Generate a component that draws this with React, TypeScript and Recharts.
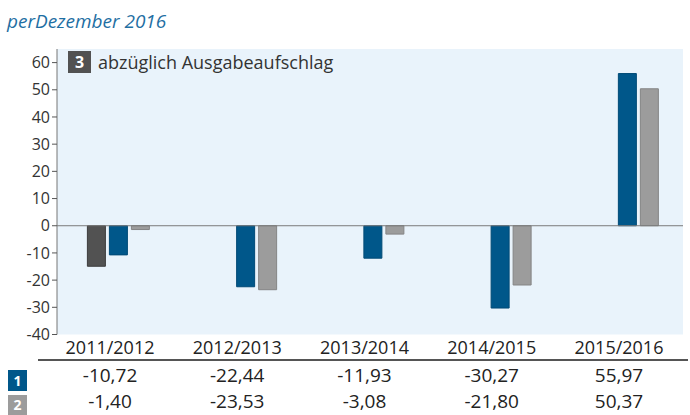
import { Bar, BarChart, CartesianGrid, ReferenceLine, XAxis, YAxis } from 'recharts';

const categories = ['2011/2012', '2012/2013', '2013/2014', '2014/2015', '2015/2016'];
const series1 = [-10.72, -22.44, -11.93, -30.27, 55.97];
const series2 = [-1.4, -23.53, -3.08, -21.8, 50.37];
const series3 = [-14.9, null, null, null, null];
const yTicks = [-40, -30, -20, -10, 0, 10, 20, 30, 40, 50, 60];

const data = categories.map((period, i) => ({
  period,
  s1: series1[i],
  s2: series2[i],
  s3: series3[i],
}));

const BLUE = '#00578a';
const GRAY = '#9c9c9c';
const DARK = '#525252';
const FONT = '"Open Sans", sans-serif';

const fmt = (v: number) => v.toFixed(2).replace('.', ',');

function TableTick(props: any) {
  const { x, y, payload } = props;
  const i = payload.index;
  const cx = x - 8;
  return (
    <g fontFamily={FONT} fill="#222" textAnchor="middle">
      <text x={cx} y={y + 19} fontSize={18}>{payload.value}</text>
      <text x={cx} y={y + 47} fontSize={19}>{fmt(series1[i])}</text>
      <text x={cx} y={y + 73} fontSize={19}>{fmt(series2[i])}</text>
    </g>
  );
}

function Badge({ label, color, top, height }: { label: string; color: string; top: number; height: number }) {
  return (
    <div
      style={{
        position: 'absolute',
        left: 8,
        top,
        width: 19,
        height,
        background: color,
        color: '#fff',
        fontFamily: FONT,
        fontWeight: 700,
        fontSize: 14,
        lineHeight: `${height}px`,
        textAlign: 'center',
      }}
    >
      {label}
    </div>
  );
}

export default function App() {
  return (
    <div style={{ position: 'absolute', left: 0, top: 0, width: 690, height: 415, background: '#fff', overflow: 'hidden' }}>
      <div
        style={{
          position: 'absolute',
          left: 7,
          top: 8,
          fontFamily: FONT,
          fontStyle: 'italic',
          fontSize: 19,
          color: '#1f6fa3',
        }}
      >
        perDezember 2016
      </div>
      <BarChart
        width={690}
        height={415}
        data={data}
        margin={{ top: 49, right: 7, bottom: 0, left: 0 }}
        barSize={18}
        barGap={4}
      >
        <CartesianGrid fill="#e9f3fb" horizontal={false} vertical={false} />
        <XAxis
          dataKey="period"
          axisLine={false}
          tickLine={false}
          tickSize={0}
          tickMargin={0}
          height={80.5}
          interval={0}
          padding={{ left: -2.6, right: -7.6 }}
          tick={<TableTick />}
        />
        <YAxis
          width={57}
          domain={[-40, 65]}
          ticks={yTicks}
          interval={0}
          allowDataOverflow
          axisLine={{ stroke: '#777' }}
          tickLine={{ stroke: '#555' }}
          tickSize={5}
          tick={{ fill: '#333', fontSize: 16, fontFamily: FONT }}
        />
        <ReferenceLine y={0} stroke="#7a7a7a" strokeWidth={1} />
        <Bar dataKey="s3" name="abzüglich Ausgabeaufschlag" fill={DARK} stroke="#3d3d3d" strokeWidth={1} isAnimationActive={false} />
        <Bar dataKey="s1" name="1" fill={BLUE} stroke="#004a76" strokeWidth={1} isAnimationActive={false} />
        <Bar dataKey="s2" name="2" fill={GRAY} stroke="#858585" strokeWidth={1} isAnimationActive={false} />
      </BarChart>
      <div
        style={{
          position: 'absolute',
          left: 68,
          top: 50,
          display: 'flex',
          alignItems: 'center',
          fontFamily: FONT,
          fontSize: 18,
          color: '#333',
        }}
      >
        <span
          style={{
            display: 'inline-block',
            width: 23,
            height: 22,
            lineHeight: '22px',
            background: DARK,
            color: '#fff',
            fontWeight: 700,
            fontSize: 16,
            textAlign: 'center',
            marginRight: 7,
          }}
        >
          3
        </span>
        abzüglich Ausgabeaufschlag
      </div>
      <div style={{ position: 'absolute', left: 38, top: 359, width: 650, height: 2, background: '#555' }} />
      <Badge label="1" color={BLUE} top={370} height={21} />
      <Badge label="2" color={GRAY} top={395} height={20} />
    </div>
  );
}
